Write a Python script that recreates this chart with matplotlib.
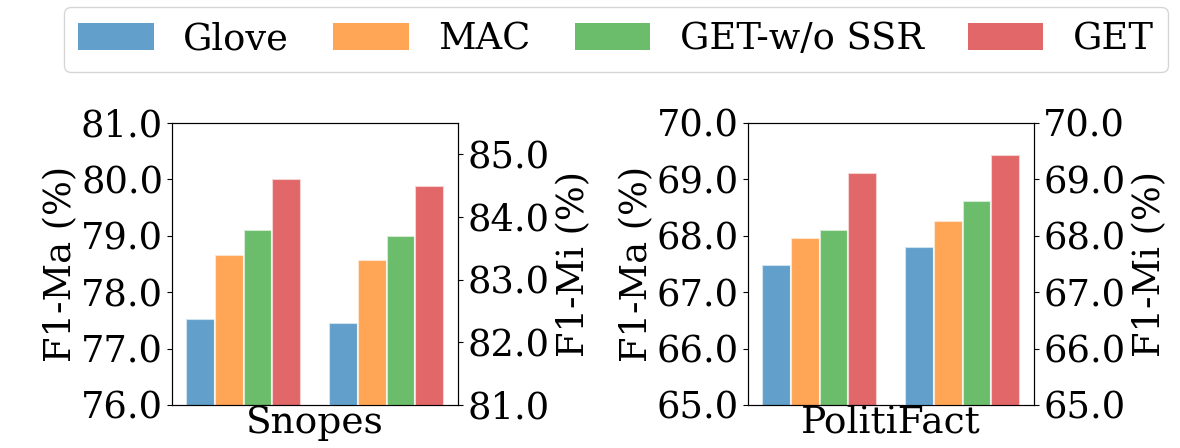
import numpy as np
import matplotlib
matplotlib.use("Agg")
import matplotlib.pyplot as plt
from matplotlib.patches import Patch

# DATA
methods = ["Glove", "MAC", "GET-w/o SSR", "GET"]
colors = ["tab:blue", "tab:orange", "tab:green", "tab:red"]

snopes_ma = [77.53, 78.66, 79.11, 80.0]
snopes_mi = [82.31, 83.32, 83.70, 84.50]
politi_ma = [67.48, 67.96, 68.11, 69.11]
politi_mi = [67.80, 68.27, 68.61, 69.43]

datasets = ["Snopes", "PolitiFact"]
ma_values = [snopes_ma, politi_ma]
mi_values = [snopes_mi, politi_mi]
ma_limits = [(76, 81), (65, 70)]
mi_limits = [(81, 85.5), (65, 70)]
ma_ticks = [np.arange(76, 81.5, 1.0), np.arange(65, 70.5, 1.0)]
mi_ticks = [np.arange(81, 85.5, 1.0), np.arange(65, 70.5, 1.0)]

plt.rcParams["font.family"] = "DejaVu Serif"
plt.rcParams["font.size"] = 26.5

fig = plt.figure(figsize=(11.8, 4.48), dpi=100)

boxes = [[0.1458, 0.096, 0.2424, 0.6295],
         [0.6339, 0.096, 0.2424, 0.6295]]

width = 0.2
offsets = np.array([-1.5, -0.5, 0.5, 1.5]) * width

for i in range(2):
    ax = fig.add_axes(boxes[i])
    ax2 = ax.twinx()
    for j in range(4):
        ax.bar(0 + offsets[j], ma_values[i][j], width, color=colors[j],
               alpha=0.7, edgecolor="white", linewidth=1.5)
        ax2.bar(1 + offsets[j], mi_values[i][j], width, color=colors[j],
                alpha=0.7, edgecolor="white", linewidth=1.5)
    ax.set_ylim(*ma_limits[i])
    ax2.set_ylim(*mi_limits[i])
    ax.set_yticks(ma_ticks[i])
    ax2.set_yticks(mi_ticks[i])
    ax.set_yticklabels(["%.1f" % t for t in ma_ticks[i]])
    ax2.set_yticklabels(["%.1f" % t for t in mi_ticks[i]])
    ax.tick_params(labelsize=26.5, pad=3)
    ax2.tick_params(labelsize=26.5, pad=3)
    ax.set_xlim(-0.5, 1.5)
    ax.set_xticks([])
    ax.set_xlabel(datasets[i], labelpad=0, fontsize=27)
    ax.set_ylabel("F1-Ma (%)", labelpad=1, fontsize=26.5)
    ax2.set_ylabel("F1-Mi (%)", labelpad=5, fontsize=26.5)

handles = [Patch(facecolor=c, alpha=0.7) for c in colors]
fig.legend(handles, methods, loc="upper center", ncol=4,
           bbox_to_anchor=(0.522, 0.985), fontsize=26.5,
           borderaxespad=0, handlelength=2.05, handleheight=0.75,
           handletextpad=0.8, columnspacing=1.2, borderpad=0.4)

plt.savefig("out.png", dpi=100)
